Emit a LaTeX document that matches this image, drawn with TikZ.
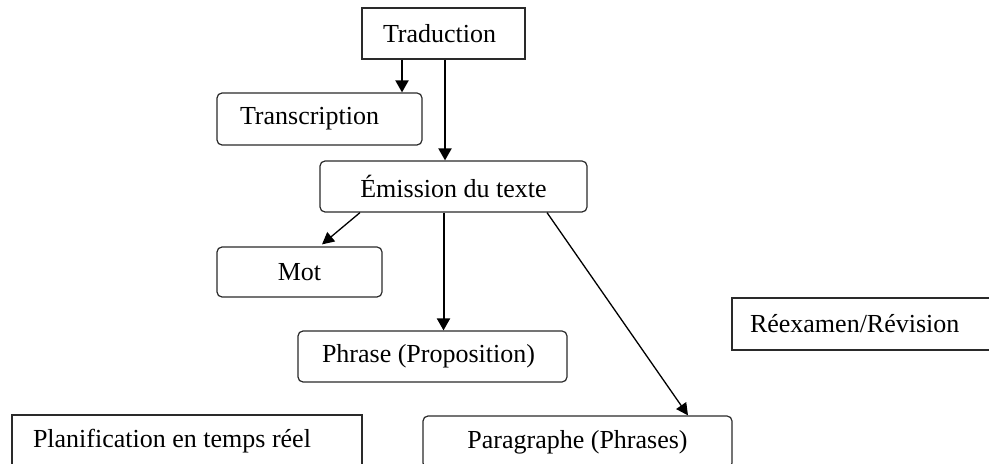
\documentclass[tikz,border=0pt]{standalone}
\usepackage{fontspec}
\setmainfont{Liberation Serif}
\usepackage{xcolor}
\usepackage{tikz}
\usetikzlibrary{arrows.meta,calc}
\definecolor{edge}{HTML}{2A2A2A}
\definecolor{ink}{HTML}{000000}
\tikzset{
  sqbox/.style={draw=edge, line width=0.6pt, align=flush left, font=\fontsize{13}{15}\selectfont},
  rndbox/.style={sqbox, rounded corners=2.5pt},
  arr/.style={-{Triangle[length=6pt,width=6.5pt]}, line width=1pt, draw=ink},
  arrthin/.style={-{Triangle[length=6pt,width=6pt]}, line width=0.65pt, draw=ink}
}

\begin{document}
\begin{tikzpicture}[x=0.5pt,y=-0.5pt]
  \clip (0,0) rectangle (989,464);
  \fill[white] (0,0) rectangle (989,464);

  % boxes
  \node[sqbox, text width=60.5pt, inner xsep=10.5pt, minimum height=25.5pt] (trad) at (443.5,33.5) {Traduction};
  \node[rndbox, text width=79.5pt, inner xsep=11.5pt, minimum height=26pt] (transc) at (319.5,119) {Transcription};
  \node[rndbox, align=center, minimum width=133.5pt, minimum height=25.5pt] (emis) at (453.5,186.5) {Émission du texte};
  \node[rndbox, align=center, minimum width=82.5pt, minimum height=25pt] (mot) at (299.5,272) {Mot};
  \node[rndbox, text width=110.5pt, inner xsep=12pt, minimum height=25.5pt] (phrase) at (432.5,356.5) {Phrase (Proposition)};
  \node[rndbox, align=center, minimum width=154.5pt, minimum height=26pt] (para) at (577.5,442) {Paragraphe (Phrases)};
  \node[sqbox, text width=154pt, inner xsep=10.5pt, minimum height=26pt] (plan) at (187,441) {Planification en temps réel};
  \node[sqbox, text width=116pt, inner xsep=9pt, minimum height=26pt] (reex) at (866,324) {Réexamen/Révision};

  % arrows
  \draw[arr] ([xshift=-20.75pt]trad.south) -- ([xshift=-20.75pt]trad.south |- transc.north);
  \draw[arr] ([xshift=0.75pt]trad.south) -- ([xshift=0.75pt]trad.south |- emis.north);
  \draw[arrthin] ([xshift=-46.75pt]emis.south) -- ([xshift=11.25pt,yshift=1pt]mot.north);
  \draw[arr] ([xshift=-5pt]emis.south) -- ([xshift=-5pt]emis.south |- phrase.north);
  \draw[arrthin] ([xshift=46.75pt]emis.south) -- ([xshift=55.25pt]para.north);
\end{tikzpicture}
\end{document}
